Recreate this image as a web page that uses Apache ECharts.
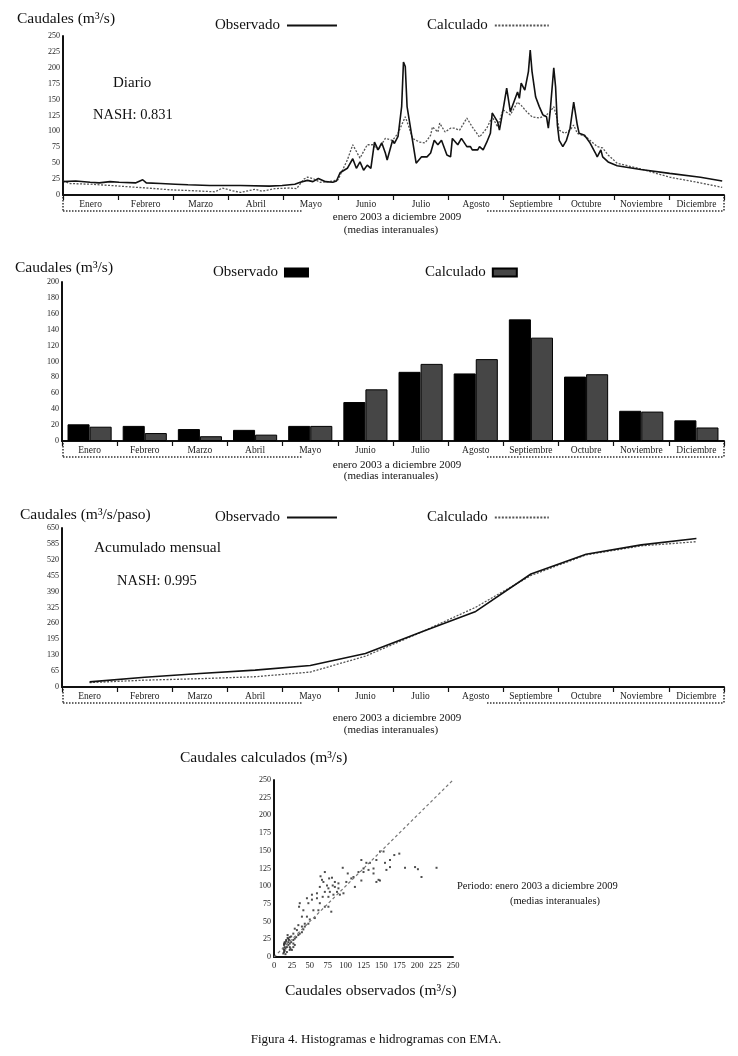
<!DOCTYPE html>
<html>
<head>
<meta charset="utf-8">
<script src="https://cdn.jsdelivr.net/npm/echarts@6/dist/echarts.min.js"></script>
<style>
html,body{margin:0;padding:0;background:#fff;}
#chart{width:738px;height:1056px;}
</style>
</head>
<body>
<div id="chart"></div>
<script>
// ---------- DATA ----------
const months = ['Enero','Febrero','Marzo','Abril','Mayo','Junio','Julio','Agosto','Septiembre','Octubre','Noviembre','Diciembre'];

// Daily (interannual mean), day of year and flow m3/s
const obsDays = [0,7,15,20,26,31,40,44,46,54,62,69,81,98,114,121,128,131,135,138,141,145,149,151,153,157,160,162,164,166,168,170,171,172,174,176,178,179,182,183,185,187,188,189,190,193,195,198,201,203,205,207,209,212,214,215,218,220,223,225,226,229,230,232,234,236,237,240,241,243,245,247,248,251,252,253,255,257,258,259,261,263,265,267,268,269,271,272,273,274,276,278,280,282,284,285,288,291,294,295,297,298,301,306,319,335,352,364];
const obsDaily = [21,22,20,19,21,20,19,24,19,18,17,16,15,15,14,15,17,20,23,21,26,21,20,22,35,42,57,42,52,39,47,42,39,83,71,82,66,55,86,81,92,139,209,202,139,86,50,60,60,66,86,79,86,63,60,89,79,89,76,76,71,71,76,71,83,97,129,115,102,134,168,131,129,162,152,176,165,194,228,194,154,139,126,123,105,131,200,170,110,86,76,86,105,146,110,97,94,82,66,60,71,60,52,46,40,34,28,22];
const calcDays = [0,4,15,26,41,51,60,70,84,88,93,98,106,110,117,125,129,133,135,138,142,147,152,153,157,160,161,164,168,171,174,178,182,185,189,191,193,197,200,203,204,207,208,211,214,216,219,223,226,230,234,237,240,243,247,251,253,256,259,263,267,269,271,273,274,277,280,282,284,289,295,298,301,306,319,335,352,364];
const calcDaily = [22,18,17,15,12,10,8,7,5,11,7,4,9,6,10,11,10,25,28,26,20,21,24,31,55,79,76,58,79,79,71,89,86,97,123,107,89,83,82,94,107,99,113,99,105,105,102,121,107,91,105,123,107,134,126,146,141,131,123,121,126,131,139,118,102,97,102,110,97,91,76,74,63,50,41,28,19,12];

// Monthly means
const obsMonthly  = [21,19,15,14,19,49,87,85,153,81,38,26];
const calcMonthly = [18,10,6,8,19,65,97,103,130,84,37,17];

// Monthly accumulated
const obsAccum  = [21,40,55,69,88,137,224,309,462,543,581,607];
const calcAccum = [18,28,34,42,61,126,223,326,456,540,577,594];

// Scatter: observed (x) vs calculated (y)
const scatObs = [13,14,15,16,18,20,22,24,27,29,31,34,36,39,41,43,48,14,15,17,20,19,22,15,13,18,22,27,25,20,14,16,22,27,16,14,29,17,21,24,19,23,
  175,168,153,148,122,129,134,143,162,155,139,132,125,118,96,103,111,113,108,101,125,143,148,122,183,197,201,206,227,139,162,157,146,
  65,71,77,81,69,74,64,76,82,85,90,88,78,71,60,68,76,83,92,97,60,53,53,64,71,76,80,62,55,48,46,36,35,41,39,46,50,57,34,39,43,32,29,27,67,85,90];
const scatCalc = [5,7,9,12,14,17,19,21,24,26,28,31,33,35,39,43,47,17,21,24,26,31,28,14,12,7,10,14,10,21,19,19,14,19,4,10,17,22,24,29,27,12,
  146,144,149,149,137,133,133,137,137,133,125,123,125,120,126,118,113,99,111,106,120,106,108,108,126,127,124,113,126,118,127,123,109,
  114,120,111,112,106,101,99,97,101,99,97,92,92,92,90,85,85,88,88,90,83,88,81,76,71,71,64,66,66,76,83,76,71,66,57,57,53,55,45,43,47,38,40,33,109,106,104];
const diagonal = [0, 250];

// ---------- CHART ----------
const F = 'Liberation Serif';
const chart = echarts.init(document.getElementById('chart'), null, {renderer:'canvas'});

const axisLine = {show:true, lineStyle:{color:'#111', width:2}};
const yLab = {fontFamily:F, fontSize:8, color:'#222', margin:3};
const mLab = {fontFamily:F, fontSize:9.5, color:'#222', margin:4, interval:0};

function monthAxis(gi){
  return {type:'category', gridIndex:gi, data:months, boundaryGap:true,
    axisLine:axisLine, axisTick:{show:true, length:5, lineStyle:{color:'#111', width:1.2}},
    axisLabel:mLab, splitLine:{show:false}};
}
function yAxis(gi, max, interval){
  return {type:'value', gridIndex:gi, min:0, max:max, interval:interval,
    axisLine:axisLine, axisTick:{show:false}, axisLabel:yLab, splitLine:{show:false}};
}

const grids = [
  {left:63, top:36, width:661, height:159},
  {left:62, top:282, width:662, height:159},
  {left:62, top:528, width:662, height:159},
  {left:274, top:780, width:179, height:177}
];

function txt(text, x, y, size, align){
  return {type:'text', silent:true, style:{text:text, x:x, y:y, font:size+'px "'+F+'"', fill:'#111',
    textAlign:align||'left', textVerticalAlign:'middle'}};
}
function dotted(x1,y1,x2,y2){
  return {type:'line', silent:true, shape:{x1:x1,y1:y1,x2:x2,y2:y2},
    style:{stroke:'#333', lineWidth:1.5, lineDash:[1.5,1.5]}};
}
function bracket(yAxisLine, yLine){
  return [dotted(63,yAxisLine+2,63,yLine), dotted(63,yLine,302,yLine),
          dotted(487,yLine,724,yLine), dotted(724,yAxisLine+2,724,yLine)];
}

const graphic = [].concat(
  [txt('Caudales (m³/s)', 17, 19, 15.5), txt('Diario', 113, 83, 15), txt('NASH: 0.831', 93, 115, 14.5),
   txt('enero 2003 a diciembre 2009', 397, 217, 11, 'center'), txt('(medias interanuales)', 391, 230, 11, 'center')],
  bracket(195, 211),
  [txt('Caudales (m³/s)', 15, 268, 15.5),
   txt('enero 2003 a diciembre 2009', 397, 465, 11, 'center'), txt('(medias interanuales)', 391, 476, 11, 'center')],
  bracket(441, 457),
  [txt('Caudales (m³/s/paso)', 20, 515, 15.5), txt('Acumulado mensual', 94, 548, 15.4), txt('NASH: 0.995', 117, 581, 14.5),
   txt('enero 2003 a diciembre 2009', 397, 718, 11, 'center'), txt('(medias interanuales)', 391, 730, 11, 'center')],
  bracket(687, 703),
  [txt('Caudales calculados (m³/s)', 180, 758, 15.5), txt('Caudales observados (m³/s)', 285, 991, 15.5),
   txt('Periodo: enero 2003 a diciembre 2009', 457, 886, 10.5), txt('(medias interanuales)', 555, 901, 10.5, 'center'),
   txt('Figura 4. Histogramas e hidrogramas con EMA.', 376, 1040, 13, 'center')]
);

function legend(name, left, top, w, h, isBar){
  const l = {data:[name], left:left, top:top, align:'right', itemWidth:w, itemHeight:h, itemGap:0,
    selectedMode:false, padding:0, formatter:function(n){return n.split('|')[0];},
    textStyle:{fontFamily:F, fontSize:15, color:'#111', padding:[0,2,0,0]}};
  if (isBar) l.icon = 'rect';
  else l.itemStyle = {opacity:0, borderWidth:0};
  return l;
}

const obsLine = {color:'#111', width:1.6, type:'solid'};
const calcLine = {color:'#555', width:1.3, type:[2,1.5]};

const option = {
  animation:false,
  backgroundColor:'#fff',
  grid:grids,
  legend:[
    legend('Observado|d', 215, 18, 50, 10), legend('Calculado|d', 427, 18, 54, 10),
    legend('Observado|m', 213, 265, 23, 8, true), legend('Calculado|m', 425, 265, 24, 8, true),
    legend('Observado|a', 215, 510, 50, 10), legend('Calculado|a', 427, 510, 54, 10)
  ],
  xAxis:[
    monthAxis(0),
    {type:'value', gridIndex:0, min:0, max:365, show:false},
    monthAxis(1),
    monthAxis(2),
    {type:'value', gridIndex:3, min:0, max:250, interval:25, axisLine:axisLine, axisTick:{show:false},
      axisLabel:{fontFamily:F, fontSize:8.5, color:'#222', margin:4}, splitLine:{show:false}}
  ],
  yAxis:[ yAxis(0,250,25), yAxis(1,200,20), yAxis(2,650,65), yAxis(3,250,25) ],
  graphic:graphic,
  series:[
    {name:'Observado|d', type:'line', xAxisIndex:1, yAxisIndex:0, symbol:'none', lineStyle:obsLine, itemStyle:{color:'#111'},
      data:obsDays.map((d,i)=>[d, obsDaily[i]]), z:3},
    {name:'Calculado|d', type:'line', xAxisIndex:1, yAxisIndex:0, symbol:'none', lineStyle:calcLine, itemStyle:{color:'#555'},
      data:calcDays.map((d,i)=>[d, calcDaily[i]]), z:2},
    {name:'Observado|m', type:'bar', xAxisIndex:2, yAxisIndex:1, data:obsMonthly, barGap:'0%', barCategoryGap:'20%',
      itemStyle:{color:'#000', borderColor:'#000', borderWidth:1}},
    {name:'Calculado|m', type:'bar', xAxisIndex:2, yAxisIndex:1, data:calcMonthly, barGap:'0%', barCategoryGap:'20%',
      itemStyle:{color:'#464646', borderColor:'#000', borderWidth:1}},
    {name:'Observado|a', type:'line', xAxisIndex:3, yAxisIndex:2, symbol:'none', lineStyle:obsLine, itemStyle:{color:'#111'},
      data:obsAccum, z:3},
    {name:'Calculado|a', type:'line', xAxisIndex:3, yAxisIndex:2, symbol:'none', lineStyle:calcLine, itemStyle:{color:'#555'},
      data:calcAccum, z:2},
    {name:'1:1', type:'line', xAxisIndex:4, yAxisIndex:3, symbol:'none',
      lineStyle:{color:'#777', width:1.2, type:[3,2.5]}, data:diagonal.map(v=>[v,v])},
    {name:'Diario obs-calc', type:'scatter', xAxisIndex:4, yAxisIndex:3, symbol:'rect', symbolSize:2,
      itemStyle:{color:'#222'}, data:scatObs.map((x,i)=>[x, scatCalc[i]])}
  ]
};
chart.setOption(option);
</script>
</body>
</html>
